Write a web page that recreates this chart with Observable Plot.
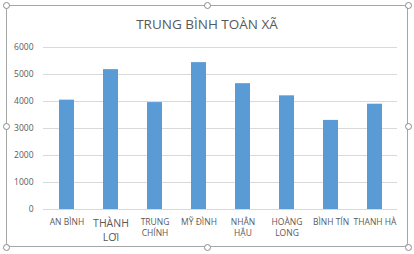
<!DOCTYPE html>
<html>
<head>
<meta charset="utf-8">
<script src="https://cdn.jsdelivr.net/npm/d3@7"></script>
<script src="https://cdn.jsdelivr.net/npm/@observablehq/plot@0.6"></script>
<style>
  html, body { margin: 0; padding: 0; background: #fff; }
  #wrap { position: relative; width: 414px; height: 254px; overflow: hidden; font-family: "Open Sans", sans-serif; }
  #frame { position: absolute; left: 6px; top: 5px; width: 402px; height: 242px; border: 1px solid #a6a6a6; border-radius: 4px; box-sizing: border-box; }
  .h { position: absolute; width: 7px; height: 7px; border: 1px solid #8c8c8c; border-radius: 50%; background: #fff; box-sizing: border-box; }
  #title { position: absolute; left: 0; width: 414px; top: 15px; text-align: center; font-size: 13.5px; color: #595959; }
  #chart { position: absolute; left: 0; top: 0; }
</style>
</head>
<body>
<div id="wrap">
  <div id="chart"></div>
  <div id="frame"></div>
  <div class="h" style="left:3px;top:2px"></div>
  <div class="h" style="left:204px;top:2px"></div>
  <div class="h" style="left:405px;top:2px"></div>
  <div class="h" style="left:3px;top:123px"></div>
  <div class="h" style="left:405px;top:123px"></div>
  <div class="h" style="left:3px;top:244px"></div>
  <div class="h" style="left:204px;top:244px"></div>
  <div class="h" style="left:405px;top:244px"></div>
  <div id="title">TRUNG BÌNH TOÀN XÃ</div>
</div>
<script>
const categories = ["AN BÌNH", "THÀNH LƠI", "TRUNG CHÍNH", "MỸ ĐÌNH", "NHÂN HẬU", "HOÀNG LONG", "BÌNH TÍN", "THANH HÀ"];
const labels = ["AN BÌNH", "THÀNH\nLƠI", "TRUNG\nCHÍNH", "MỸ ĐÌNH", "NHÂN\nHẬU", "HOÀNG\nLONG", "BÌNH TÍN", "THANH HÀ"];
const labelSizes = [8.5, 10.5, 8.5, 8.5, 8.5, 8.5, 8.5, 8.5];
const values = [4050, 5180, 3960, 5440, 4660, 4210, 3300, 3900];
const yTicks = [0, 1000, 2000, 3000, 4000, 5000, 6000];

const data = categories.map((c, i) => ({cat: c, value: values[i], label: labels[i], size: labelSizes[i]}));

const chart = Plot.plot({
  width: 414,
  height: 254,
  marginTop: 47,
  marginBottom: 45,
  marginLeft: 43,
  marginRight: 17,
  style: {background: "transparent", fontFamily: "'Open Sans', sans-serif", color: "#595959"},
  x: {domain: categories, paddingInner: 0.67, paddingOuter: 0.335, axis: null},
  y: {domain: [0, 6000], ticks: yTicks, label: null, grid: false},
  marks: [
    Plot.gridY(yTicks, {stroke: "#d9d9d9", strokeOpacity: 1}),
    Plot.axisY(yTicks, {tickSize: 0, tickPadding: 10, fontSize: 8.5, fill: "#595959", label: null, tickFormat: d3.format("d")}),
    Plot.barY(data, {x: "cat", y: "value", fill: "#5B9BD5"}),
    Plot.text(data, {x: "cat", y: () => 0, text: "label", fontSize: "size", lineAnchor: "top", dy: 8, fill: "#595959", lineHeight: 1.3})
  ]
});
document.getElementById("chart").appendChild(chart);
</script>
</body>
</html>
